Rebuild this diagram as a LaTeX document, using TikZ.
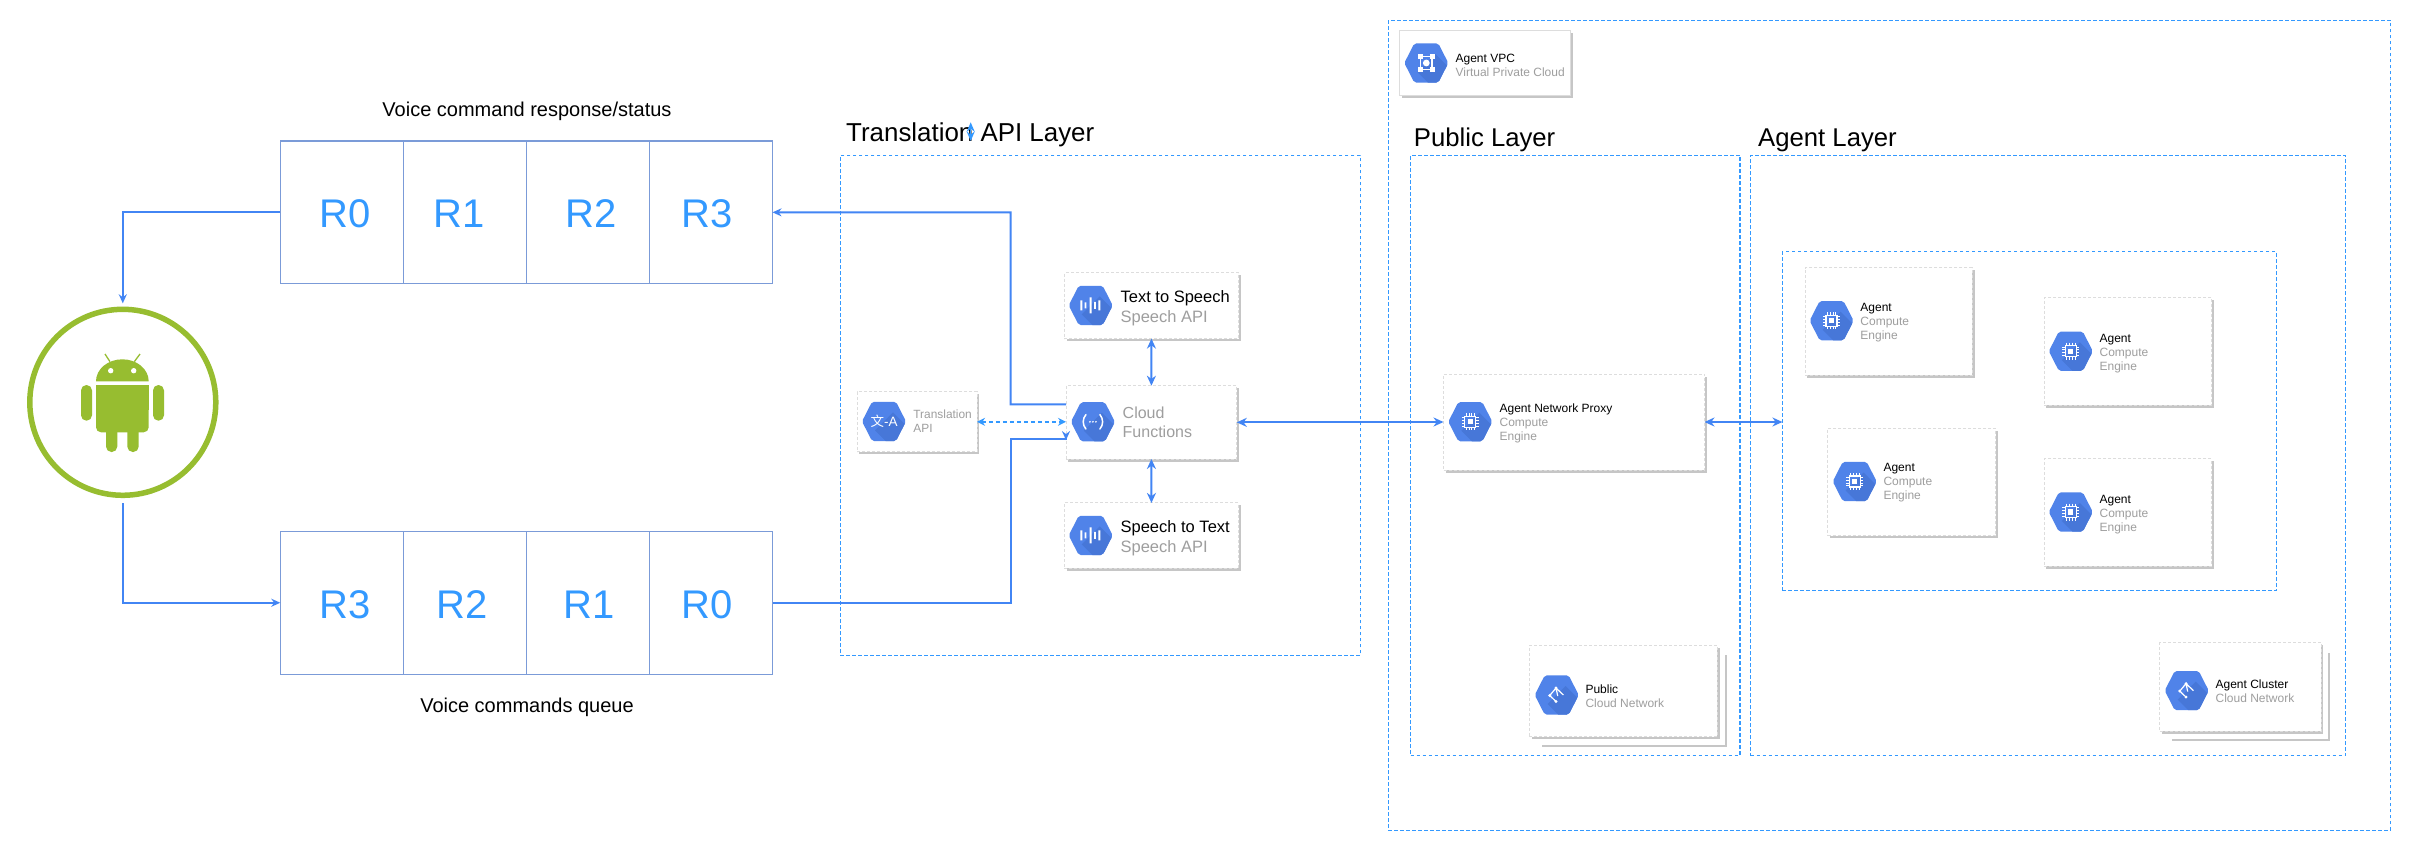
\documentclass[tikz,border=0pt]{standalone}
\usepackage{fontspec}
\setmainfont{Liberation Sans}
\newfontfamily\cjkfont{Noto Sans CJK SC}
\usetikzlibrary{arrows.meta,fit,shadows}
\definecolor{flowc}{HTML}{4285F4}
\definecolor{dashc}{HTML}{3399FF}
\definecolor{cellc}{HTML}{7B9BD8}
\definecolor{hexc}{HTML}{5083E9}
\definecolor{hexd}{HTML}{4777D8}
\definecolor{grayt}{HTML}{9E9E9E}
\definecolor{shadc}{HTML}{C6C6C6}
\definecolor{cardl}{HTML}{DDDDDD}
\definecolor{droid}{HTML}{97BD30}
\tikzset{
  px/.style={x=1pt,y=-1pt},
  flow/.style={draw=flowc,line width=2pt,-{Stealth[length=9pt,width=8pt]}},
  flowtw/.style={draw=flowc,line width=2pt,{Stealth[length=10pt,width=9pt]}-{Stealth[length=10pt,width=9pt]}},
  zone/.style={draw=dashc,line width=1.3pt,dash pattern=on 3.5pt off 2.5pt,inner sep=0pt,outer sep=0pt},
  cell/.style={draw=cellc,line width=1.2pt,inner sep=0pt,outer sep=0pt},
  card/.style={fill=white,draw=cardl,line width=1pt,dash pattern=on 3pt off 2pt,inner sep=0pt,outer sep=0pt,
    general shadow={shadow xshift=2.2pt,shadow yshift=-2.5pt,fill=shadc,draw=none,solid}},
  solidcard/.style={card,solid,draw=cardl},
  backcard/.style={fill=white,inner sep=0pt,outer sep=0pt,
    general shadow={shadow xshift=1.8pt,shadow yshift=-2pt,fill=shadc,draw=none}},
  rtxt/.style={text=dashc,font=\fontsize{40}{48}\selectfont,inner sep=0pt},
  note/.style={font=\fontsize{20}{24}\selectfont,inner sep=0pt},
  title/.style={font=\fontsize{25.7}{30}\selectfont,inner sep=0pt,anchor=base west},
  big/.style={font=\fontsize{16.5}{20}\selectfont,inner sep=0pt,anchor=west,align=left},
  small/.style={font=\fontsize{12}{14}\selectfont,inner sep=0pt,anchor=west,align=left},
  hexb/.pic={
    \begin{scope}
      \clip[rounded corners=2pt] (-22,0)--(-12,-19.6)--(12,-19.6)--(22,0)--(12,19.6)--(-12,19.6)--cycle;
      \fill[hexc] (-23,-21) rectangle (23,21);
      \fill[hexd] (9,-9)--(-9,9)--(20,38)--(38,20)--cycle;
    \end{scope}
  },
  chip/.pic={
    \pic {hexb};
    \draw[white,line width=1.3pt] (-5.5,-5.5) rectangle (5.5,5.5);
    \fill[white] (-2.6,-2.6) rectangle (2.6,2.6);
    \foreach \p in {-4.2,-1.4,1.4,4.2}{
      \draw[white,line width=.8pt] (\p,-8.5)--(\p,-6) (\p,6)--(\p,8.5) (-8.5,\p)--(-6,\p) (6,\p)--(8.5,\p);
    }
  },
  speech/.pic={
    \pic {hexb};
    \fill[white] (-10.3,-5)rectangle(-8.3,5) (-6,-3)rectangle(-4.4,3) (-1,-8)rectangle(1,8) (3.5,-3.5)rectangle(5.2,3.5) (7.6,-5)rectangle(9.6,5);
  },
  func/.pic={
    \pic {hexb};
    \draw[white,line width=1.5pt,line cap=round] (-7,-7.2) .. controls (-10.6,-3) and (-10.6,3) .. (-7,7.2);
    \draw[white,line width=1.5pt,line cap=round] (7,-7.2) .. controls (10.6,-3) and (10.6,3) .. (7,7.2);
    \fill[white] (-3,0) circle (.95) (0,0) circle (.95) (3,0) circle (.95);
  },
  vpc/.pic={
    \pic {hexb};
    \draw[white,line width=1.3pt] (-5.8,-6.2) rectangle (5.8,6.2);
    \foreach \a/\b in {-1/-1,1/-1,-1/1,1/1}{
      \fill[white] ({\a*5.8-2.6},{\b*6.2-2.6}) rectangle ({\a*5.8+2.6},{\b*6.2+2.6});
    }
    \fill[white] (0,0) circle (3.4);
  },
  net/.pic={
    \pic {hexb};
    \draw[white,line width=1.2pt] (-7,0.5)--(-.7,-7)--(6.7,0) (-7,0.5)--(-.7,6.5) (-.7,-7)--(1,1);
    \fill[white] (-7,0.5) circle (1.6) (-.7,-7) circle (1.6) (-.7,6.5) circle (1.6);
  }
}
\begin{document}
\begin{tikzpicture}[px]
\useasboundingbox (0,0) rectangle (2411,851);
\fill[white] (0,0) rectangle (2411,851);

% zones
\node[zone,fit={(1388.4,20.3)(2390.4,830.4)}] (vpczone) {};
\node[zone,fit={(840.4,155.4)(1360.4,655.4)}] (trzone) {};
\node[zone,fit={(1410.6,155.3)(1740,755.5)}] (pubzone) {};
\node[zone,fit={(1750.5,155.3)(2345.5,755.5)}] (agzone) {};
\node[zone,fit={(1782.4,251.8)(2276.2,590.8)}] (inner) {};

% titles
\node[title,font=\fontsize{25.9}{30}\selectfont] (ttr) at (846,141) {Translation API Layer};
\node[title] (tpub) at (1413.7,146) {Public Layer};
\node[title] (tag) at (1758,146) {Agent Layer};
\coordinate (strayA) at (970.7,122.3);
\coordinate (strayB) at (970.7,141);
\draw[draw=dashc,line width=1.3pt,{Stealth[length=9.5pt,width=8pt]}-{Stealth[length=9.5pt,width=8pt]}] (strayA) -- (strayB);

% queues
\node[cell,fit={(280.3,141)(403.8,283.7)}] (t0) {};
\node[cell,fit={(403.8,141)(526.7,283.7)}] (t1) {};
\node[cell,fit={(526.7,141)(649.6,283.7)}] (t2) {};
\node[cell,fit={(649.6,141)(772.5,283.7)}] (t3) {};
\node[cell,fit={(280.3,531.2)(403.8,674.3)}] (b3) {};
\node[cell,fit={(403.8,531.2)(526.7,674.3)}] (b2) {};
\node[cell,fit={(526.7,531.2)(649.6,674.3)}] (b1) {};
\node[cell,fit={(649.6,531.2)(772.5,674.3)}] (b0) {};
\node[rtxt] (lt0) at (345,213.5) {R0};
\node[rtxt] (lt1) at (459,213.5) {R1};
\node[rtxt] (lt2) at (591,213.5) {R2};
\node[rtxt] (lt3) at (707,213.5) {R3};
\node[rtxt] (lb3) at (345,604.5) {R3};
\node[rtxt] (lb2) at (462,604.5) {R2};
\node[rtxt] (lb1) at (589,604.5) {R1};
\node[rtxt] (lb0) at (707,604.5) {R0};
\node[note] (nresp) at (527,111.5) {Voice command response/status};
\node[note] (nqueue) at (527,707.2) {Voice commands queue};

% android
\node[circle,draw=droid,line width=5.5pt,minimum size=186pt,inner sep=0pt,outer sep=0pt] (android) at (122.8,402.3) {};
\begin{scope}[droid]
  \fill[droid] (96,381.3) arc[start angle=180,end angle=360,x radius=26.35,y radius=22] -- cycle;
  \fill[white] (110.7,370.7) circle (2.7) (133.7,370.7) circle (2.7);
  \draw[droid,line width=1.3pt] (110,361.7)--(105,354) (134.3,361.7)--(140,354);
  \fill[droid,rounded corners=5pt] (96,385.3) -- (148.7,385.3) -- (148.7,432.3) -- (96,432.3) -- cycle;
  \fill[droid] (96,385.3) rectangle (148.7,410);
  \fill[droid,rounded corners=5.4pt] (81,385) rectangle (92,420.7);
  \fill[droid,rounded corners=5.4pt] (153,385) rectangle (164,420.7);
  \fill[droid,rounded corners=5.4pt] (106,420) rectangle (117.3,452);
  \fill[droid,rounded corners=5.4pt] (127.3,420) rectangle (138.7,452);
\end{scope}

% translation layer cards
\node[card,fit={(1064.3,272.9)(1238.6,338.6)}] (tts) {};
\node[card,fit={(1066,385.7)(1236.8,459)}] (cf) {};
\node[card,fit={(1064.3,502.9)(1238.6,568.2)}] (stt) {};
\node[card,fit={(857,391.8)(977,451.8)}] (trapi) {};
\pic at (1090.7,305.4) {speech};
\pic at (1092.9,421.8) {func};
\pic at (1090.7,535.4) {speech};
\pic at (884,421.4) {hexb};
\node[text=white,inner sep=0pt,font=\fontsize{13.5}{15}\selectfont] (trglyph) at (884,421.4) {{\cjkfont 文}-A};
\node[big] (ltts) at (1120.4,308) {Text to Speech\\\textcolor{grayt}{Speech API}};
\node[big] (lstt) at (1120.4,538) {Speech to Text\\\textcolor{grayt}{Speech API}};
\node[big,font=\fontsize{16}{19}\selectfont,text=grayt] (lcf) at (1122.5,422) {Cloud\\Functions};
\node[small,font=\fontsize{11.9}{13.6}\selectfont,text=grayt] (ltr) at (913.2,421.4) {Translation\\API};

% vpc card
\node[solidcard,fit={(1399.5,30.7)(1570.6,95.7)}] (vpc) {};
\pic at (1426.3,63) {vpc};
\node[small] (lvpc) at (1455.4,65) {Agent VPC\\\textcolor{grayt}{Virtual Private Cloud}};

% proxy
\node[card,fit={(1443.5,374)(1704.5,470)}] (prx) {};
\pic at (1470.3,421.7) {chip};
\node[small] (lprx) at (1499.4,423) {Agent Network Proxy\\\textcolor{grayt}{Compute}\\\textcolor{grayt}{Engine}};

% agents
\node[card,fit={(1805,267.6)(1972.3,375.3)}] (a1) {};
\pic at (1831.6,320.7) {chip};
\node[small] (la1) at (1860.2,322.6) {Agent\\\textcolor{grayt}{Compute}\\\textcolor{grayt}{Engine}};
\node[card,fit={(2044.2,297.7)(2211.5,405)}] (a2) {};
\pic at (2070.8,351.2) {chip};
\node[small] (la2) at (2099.4,353.2) {Agent\\\textcolor{grayt}{Compute}\\\textcolor{grayt}{Engine}};
\node[card,fit={(1827.7,428)(1995.5,535.7)}] (a3) {};
\pic at (1854.7,481.5) {chip};
\node[small] (la3) at (1883.3,483.1) {Agent\\\textcolor{grayt}{Compute}\\\textcolor{grayt}{Engine}};
\node[card,fit={(2044.2,458.9)(2211.5,566.2)}] (a4) {};
\pic at (2070.8,512) {chip};
\node[small] (la4) at (2099.4,514.3) {Agent\\\textcolor{grayt}{Compute}\\\textcolor{grayt}{Engine}};

% stacked network cards
\node[backcard,fit={(1540,653)(1725,745)}] (pubback) {};
\node[card,fit={(1529.3,645.3)(1717.3,736.7)}] (pub) {};
\pic at (1556.7,695) {net};
\node[small] (lpub) at (1585.3,696.5) {Public\\\textcolor{grayt}{Cloud Network}};
\node[backcard,fit={(2170,650.6)(2328,739)}] (clback) {};
\node[card,fit={(2159.8,642.7)(2321,731)}] (cl) {};
\pic at (2186.7,690.6) {net};
\node[small] (lcl) at (2215.4,691.6) {Agent Cluster\\\textcolor{grayt}{Cloud Network}};

% connectors
\coordinate (jt1) at (1010.7,404.3);
\coordinate (jt2) at (1010.7,439.3);
\coordinate (jt3) at (1066,439.3);
\coordinate (jog) at (1338.6,422);
\draw[flow] (t0.west) -| ([yshift=6pt]android.north);
\draw[flow] ([yshift=-8pt]android.south) |- (b3.west);
\draw[flow] ([yshift=18pt]cf.west) -- (jt1) -- (jt1 |- t3.east) -- (t3.east);
\draw[flow] (b0.east) -- (jt2 |- b0.east) -- (jt2) -- (jt3) -- ([yshift=-.8pt]jt3);
\draw[flowtw] (tts.south) -- (cf.north);
\draw[flowtw] (cf.south) -- (stt.north);
\draw[draw=dashc,line width=1.4pt,dash pattern=on 4pt off 3pt,{Stealth[length=8pt,width=8pt,fill=dashc]}-{Stealth[length=8pt,width=8pt,fill=dashc]}] (trapi.east) -- (trapi.east -| cf.west);
\draw[flowtw] (cf.east) -- (jog |- cf.east) -- (jog |- prx.west) -- (prx.west);
\draw[flowtw] (prx.east) -- (inner.west |- prx.east);
\end{tikzpicture}
\end{document}
